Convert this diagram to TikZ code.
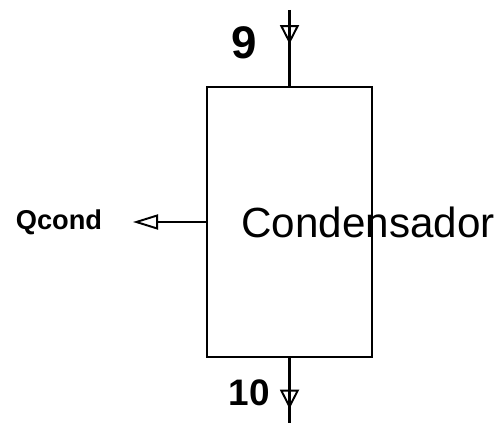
\documentclass[tikz,border=0pt]{standalone}
\usepackage{fontspec}
\setmainfont{Liberation Sans}
\usetikzlibrary{arrows.meta,decorations.markings}

\begin{document}
\begin{tikzpicture}[
  unit/.style={draw=black, line width=1.3pt, minimum width=3.3cm, minimum height=5.4cm, inner sep=0pt},
  flow/.style={line width=1.3pt},
  tip/.style={postaction={decorate,decoration={markings,
    mark=at position #1 with {\arrow{Triangle[open,length=3.8mm,width=3.8mm,line width=1.1pt]}}}}},
  lbl/.style={inner sep=0pt, font=\bfseries}
]
\useasboundingbox (0,0) rectangle (10,8.46);
\node[unit] (cond) at (5.79,4.02) {};
\node[inner sep=0pt, font=\fontsize{24}{26}\selectfont] (name) at (7.36,4.02) {Condensador};
\coordinate (in) at (5.79,8.26);
\coordinate (out) at (5.79,0);
\coordinate (heat) at (2.66,4.02);
\draw[flow, tip=0.45] (in) -- (cond.north);
\draw[flow, tip=0.78] (cond.south) -- (out);
\draw[flow, -{Triangle[open,length=5mm,width=3mm,line width=1.1pt]}] (cond.west) -- (heat);
\node[lbl, font=\bfseries\fontsize{15.5}{17}\selectfont] (q) at (1.18,4.02) {Qcond};
\node[lbl, font=\bfseries\fontsize{26}{28}\selectfont] (s9) at (4.88,7.6) {9};
\node[lbl, font=\bfseries\fontsize{21}{23}\selectfont] (s10) at (4.98,0.6) {10};
\end{tikzpicture}
\end{document}
